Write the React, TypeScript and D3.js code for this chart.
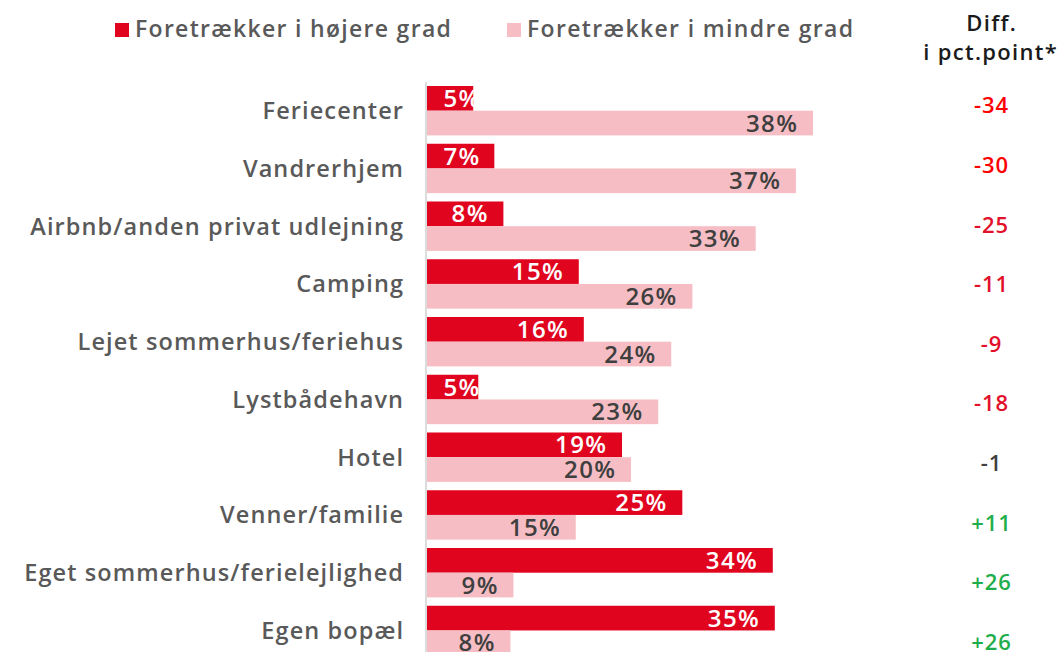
import React from "react";
import * as d3 from "d3";

const categories = [
  "Feriecenter",
  "Vandrerhjem",
  "Airbnb/anden privat udlejning",
  "Camping",
  "Lejet sommerhus/feriehus",
  "Lystbådehavn",
  "Hotel",
  "Venner/familie",
  "Eget sommerhus/ferielejlighed",
  "Egen bopæl",
];
const higher = [4.6, 6.7, 7.6, 15.1, 15.6, 5.1, 19.4, 25.4, 34.4, 34.6];
const lower = [38.4, 36.7, 32.7, 26.4, 24.3, 23.0, 20.3, 14.8, 8.6, 8.3];
const diffs = [-34, -30, -25, -11, -9, -18, -1, 11, 26, 26];
const seriesNames = ["Foretrækker i højere grad", "Foretrækker i mindre grad"];
const diffHeader = ["Diff.", "i pct.point*"];

const W = 1061;
const H = 652;
const RED = "#e0041f";
const PINK = "#f6bec4";
const FONT = "'Open Sans', 'DejaVu Sans', sans-serif";

let _ctx: CanvasRenderingContext2D | null = null;
function textWidth(t: string, font: string, ls: number) {
  if (!_ctx) _ctx = document.createElement("canvas").getContext("2d");
  if (!_ctx) return t.length * 13;
  _ctx.font = font;
  return _ctx.measureText(t).width + ls * t.length;
}

export default function App() {
  const x = d3.scaleLinear().domain([0, 38.4]).range([427, 813]);
  const gap = 8.35;
  const step = 57.75;
  const y = d3
    .scaleBand<string>()
    .domain(categories)
    .range([86, 86 + step * categories.length - gap])
    .paddingInner(gap / step)
    .paddingOuter(0);
  const bh = y.bandwidth() / 2;
  const yDiff = d3.scalePoint<string>().domain(categories).range([105.5, 642]);

  const valFs = 24;
  const valLs = 1.4;
  const valFont = `600 ${valFs}px 'Open Sans'`;
  const catFs = 23.5;
  const catLs = 1.1;
  const legFs = 23;
  const diffFs = 22;
  const fmt = (v: number) => `${Math.round(v)}%`;
  const labelEnd = (v: number) => {
    const w = textWidth(fmt(v), valFont, valLs);
    return Math.max(x(v) - 16, x(0) + 15 + w);
  };
  const diffColor = (d: number, i: number) =>
    d > 0 ? "#1fae4b" : d === -1 ? "#404040" : i < 2 ? "#ff0000" : "#e2102b";

  return (
    <svg
      width={W}
      height={H}
      style={{ position: "absolute", left: 0, top: 0, display: "block", background: "#fff" }}
      fontFamily={FONT}
    >
      {/* legend */}
      <rect x={115} y={23} width={14} height={14} fill={RED} />
      <text x={135} y={36.5} fontSize={legFs} fontWeight={600} fill="#595959" letterSpacing={1.3}>
        {seriesNames[0]}
      </text>
      <rect x={507} y={23} width={14} height={14} fill={PINK} />
      <text x={527} y={36.5} fontSize={legFs} fontWeight={600} fill="#595959" letterSpacing={1.35}>
        {seriesNames[1]}
      </text>
      <text
        x={991 + 0.65}
        y={31}
        fontSize={diffFs}
        fontWeight={600}
        fill="#1a1a1a"
        textAnchor="middle"
        letterSpacing={1.3}
      >
        {diffHeader[0]}
      </text>
      <text
        x={990 + 0.65}
        y={60}
        fontSize={diffFs}
        fontWeight={600}
        fill="#1a1a1a"
        textAnchor="middle"
        letterSpacing={1.3}
      >
        {diffHeader[1]}
      </text>

      {/* bars */}
      {categories.map((c, i) => {
        const y0 = y(c)!;
        return (
          <g key={c}>
            <rect x={x(0)} y={y0} width={x(higher[i]) - x(0)} height={bh} fill={RED} />
            <rect x={x(0)} y={y0 + bh} width={x(lower[i]) - x(0)} height={bh} fill={PINK} />
            <text
              x={labelEnd(higher[i]) + valLs}
              y={y0 + bh / 2 + valFs * 0.355}
              fontSize={valFs}
              fontWeight={600}
              fill="#ffffff"
              textAnchor="end"
              letterSpacing={valLs}
            >
              {fmt(higher[i])}
            </text>
            <text
              x={labelEnd(lower[i]) + valLs}
              y={y0 + bh * 1.5 + valFs * 0.355}
              fontSize={valFs}
              fontWeight={600}
              fill="#3f3f3f"
              textAnchor="end"
              letterSpacing={valLs}
            >
              {fmt(lower[i])}
            </text>
            <text
              x={403 + catLs}
              y={y0 + bh + catFs * 0.355}
              fontSize={catFs}
              fontWeight={600}
              fill="#595959"
              textAnchor="end"
              letterSpacing={catLs}
            >
              {c}
            </text>
            <text
              x={991 + 0.5}
              y={yDiff(c)! + diffFs * 0.355}
              fontSize={diffFs}
              fontWeight={600}
              fill={diffColor(diffs[i], i)}
              textAnchor="middle"
              letterSpacing={1}
            >
              {diffs[i] > 0 ? `+${diffs[i]}` : `${diffs[i]}`}
            </text>
          </g>
        );
      })}

      {/* axis line */}
      <line x1={426} x2={426} y1={82} y2={H} stroke="#d4d4d4" strokeWidth={1.6} />
    </svg>
  );
}
